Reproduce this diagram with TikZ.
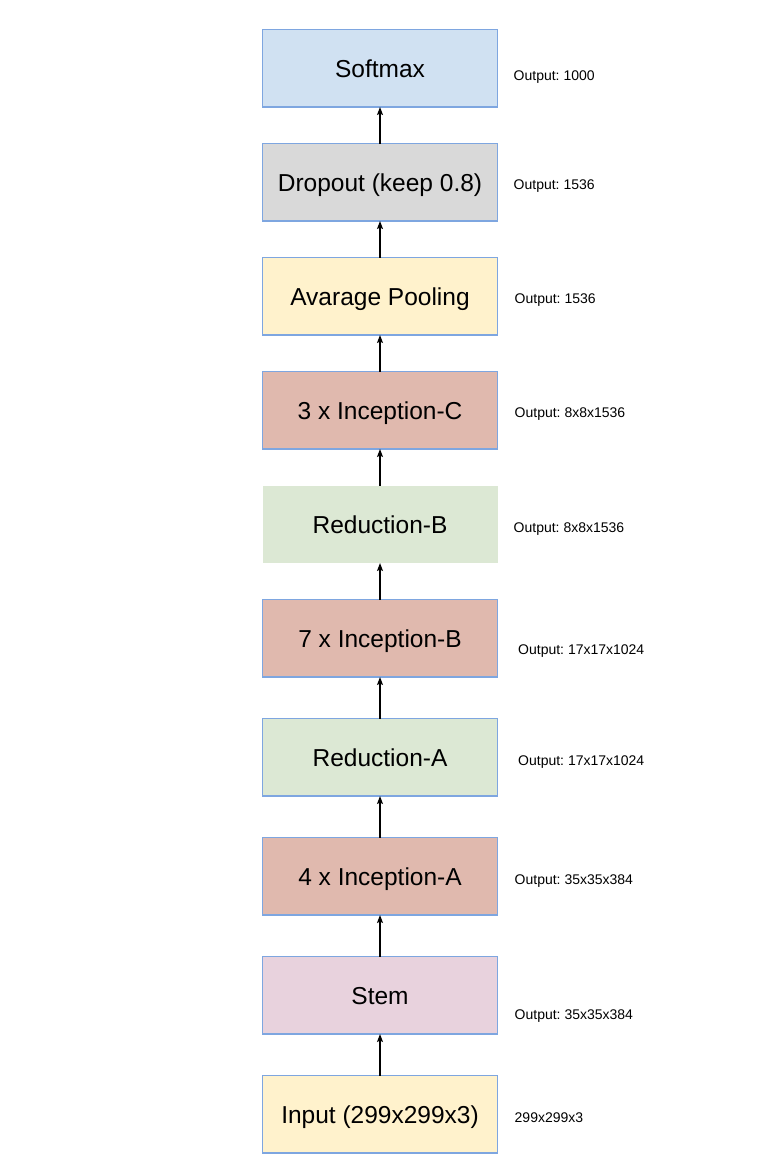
\documentclass[tikz,border=0pt]{standalone}
\usepackage{fontspec}
\setmainfont{Liberation Sans}
\usetikzlibrary{positioning, arrows.meta}

\definecolor{edgeblue}{HTML}{7EA6E0}
\definecolor{softblue}{HTML}{D0E1F2}
\definecolor{dropgray}{HTML}{D9D9D9}
\definecolor{poolyellow}{HTML}{FFF2CC}
\definecolor{incred}{HTML}{E0B9AE}
\definecolor{redgreen}{HTML}{DCE8D4}
\definecolor{stempink}{HTML}{E8D2DD}

\begin{document}
\frenchspacing
\begin{tikzpicture}[x=1pt, y=-1pt, node distance=41.5pt]
% Styles
\tikzstyle{layer} = [rectangle, minimum width=235pt, minimum height=77.5pt, text centered, draw=edgeblue, line width=1.2pt, inner sep=0pt, outer sep=0pt, font=\fontsize{24.5}{28}\selectfont, text height=17.5pt, text depth=0pt]
\tikzstyle{noborder} = [draw=none]
\tikzstyle{outlbl} = [anchor=west, inner sep=0pt, font=\fontsize{14}{16}\selectfont, text height=10pt, text depth=0pt]
\tikzstyle{arrow} = [line width=1.1pt, -{Stealth[length=8pt, width=6pt, inset=1.5pt]}]

\useasboundingbox (0,0) rectangle (756,1174);

% Nodes
\node (input) [layer, fill=poolyellow] at (380,1114.3) {Input (299x299x3)};
\node (stem) [layer, fill=stempink, above=of input] {Stem};
\node (inca) [layer, fill=incred, above=of stem] {4 x Inception-A};
\node (reda) [layer, fill=redgreen, above=of inca] {Reduction-A};
\node (incb) [layer, fill=incred, above=of reda] {7 x Inception-B};
\node (redb) [layer, fill=redgreen, noborder, above=36.5pt of incb] {Reduction-B};
\node (incc) [layer, fill=incred, above=36.5pt of redb] {3 x Inception-C};
\node (pool) [layer, fill=poolyellow, above=36.5pt of incc] {Avarage Pooling};
\node (drop) [layer, fill=dropgray, above=36.5pt of pool] {Dropout (keep 0.8)};
\node (softmax) [layer, fill=softblue, above=36.5pt of drop] {Softmax};

% Output sizes
\node (lblsoftmax) [outlbl, right=16pt of softmax, yshift=-7.5pt] {Output: 1000};
\node (lbldrop) [outlbl, right=16pt of drop, yshift=-2.7pt] {Output: 1536};
\node (lblpool) [outlbl, right=17pt of pool, yshift=-2.5pt] {Output: 1536};
\node (lblincc) [outlbl, right=17pt of incc, yshift=-2.5pt] {Output: 8x8x1536};
\node (lblredb) [outlbl, right=16pt of redb, yshift=-3pt] {Output: 8x8x1536};
\node (lblincb) [outlbl, right=20.5pt of incb, yshift=-10.8pt] {Output: 17x17x1024};
\node (lblreda) [outlbl, right=20.5pt of reda, yshift=-3.5pt] {Output: 17x17x1024};
\node (lblinca) [outlbl, right=17pt of inca, yshift=-3.3pt] {Output: 35x35x384};
\node (lblstem) [outlbl, right=17pt of stem, yshift=-19.3pt] {Output: 35x35x384};
\node (lblinput) [outlbl, right=17pt of input, yshift=-3pt] {299x299x3};

% Arrows
\draw [arrow] (input) -- (stem);
\draw [arrow] (stem) -- (inca);
\draw [arrow] (inca) -- (reda);
\draw [arrow] (reda) -- (incb);
\draw [arrow] (incb) -- (redb);
\draw [arrow] (redb) -- (incc);
\draw [arrow] (incc) -- (pool);
\draw [arrow] (pool) -- (drop);
\draw [arrow] (drop) -- (softmax);
\end{tikzpicture}
\end{document}
